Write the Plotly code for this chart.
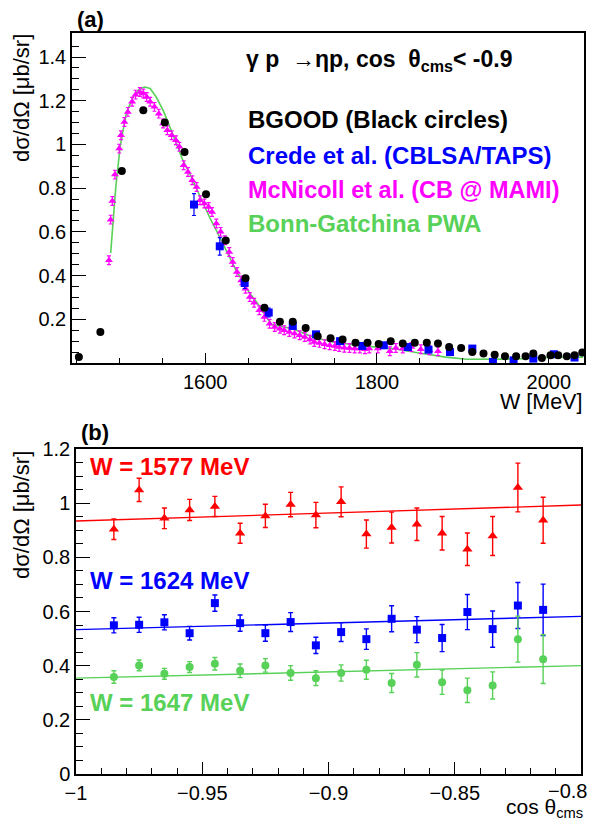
import numpy as np
import plotly.graph_objects as go

# ---------------- Panel (a) data ----------------
bgood_W = [1453, 1478, 1503, 1528, 1553, 1576, 1601, 1624, 1647, 1669, 1687, 1702, 1717, 1731,
           1746, 1760, 1775, 1789, 1802, 1816, 1830, 1844, 1858, 1871, 1884, 1898, 1911, 1924,
           1937, 1949, 1962, 1973, 1982, 1992, 2002, 2011, 2021, 2030, 2039]
bgood_xs = [0.027, 0.142, 0.879, 1.157, 1.100, 0.966, 0.772, 0.561, 0.388, 0.253, 0.189, 0.189,
            0.160, 0.122, 0.113, 0.107, 0.093, 0.093, 0.087, 0.099, 0.089, 0.093, 0.093, 0.089,
            0.073, 0.069, 0.050, 0.043, 0.038, 0.031, 0.031, 0.031, 0.043, 0.023, 0.035, 0.035,
            0.031, 0.035, 0.048]

crede_W = [1587, 1617, 1646, 1674, 1702, 1729, 1757, 1783, 1808, 1836, 1860, 1885, 1911, 1935,
           1959, 1982, 2006, 2030]
crede_xs = [0.725, 0.534, 0.366, 0.231, 0.170, 0.131, 0.100, 0.078, 0.081, 0.073, 0.061, 0.050,
            0.066, 0.005, 0.012, 0.020, 0.040, 0.025]
crede_err = [0.050, 0.040, 0.025, 0.020, 0.015, 0.012, 0.010, 0.010, 0.010, 0.010, 0.010, 0.010,
             0.010, 0.010, 0.010, 0.010, 0.010, 0.010]

mcn_W = [1488, 1490, 1492, 1495, 1500, 1502, 1506, 1510, 1515, 1519, 1524, 1528, 1532, 1536,
         1541, 1546, 1551, 1556, 1561, 1566, 1570, 1575, 1580, 1585, 1590, 1594, 1599, 1604,
         1608, 1613, 1618, 1623, 1628, 1632, 1637, 1642, 1647, 1652, 1657, 1663, 1669, 1675,
         1681, 1687, 1692, 1698, 1704, 1710, 1716, 1722, 1727, 1733, 1739, 1745, 1751, 1756,
         1762, 1768, 1774, 1780, 1786, 1791, 1801, 1815, 1822, 1830, 1840, 1851, 1861, 1871]
mcn_xs = [0.470, 0.656, 0.741, 0.862, 0.981, 1.042, 1.103, 1.149, 1.195, 1.228, 1.240, 1.233,
          1.217, 1.195, 1.172, 1.141, 1.096, 1.065, 1.042, 1.019, 0.989, 0.905, 0.874, 0.836,
          0.805, 0.745, 0.730, 0.714, 0.691, 0.638, 0.600, 0.562, 0.508, 0.462, 0.416, 0.378,
          0.340, 0.302, 0.276, 0.241, 0.211, 0.180, 0.165, 0.157, 0.150, 0.142, 0.135, 0.127,
          0.119, 0.107, 0.096, 0.092, 0.086, 0.081, 0.078, 0.073, 0.070, 0.069, 0.066, 0.066,
          0.063, 0.066, 0.066, 0.054, 0.069, 0.066, 0.073, 0.063, 0.058, 0.054]
mcn_err = [0.020] * len(mcn_W)

pwa_W = [1490, 1493, 1496, 1501, 1508, 1516, 1524, 1530, 1536, 1543, 1551, 1559, 1567, 1574,
         1582, 1590, 1597, 1605, 1613, 1621, 1629, 1636, 1644, 1652, 1660, 1669, 1677, 1690,
         1702, 1725, 1749, 1776, 1803, 1818, 1849, 1880, 1904, 1935, 1962, 1993, 2020, 2040]
pwa_xs = [0.503, 0.668, 0.806, 0.989, 1.141, 1.217, 1.256, 1.263, 1.256, 1.217, 1.157, 1.080,
          0.996, 0.928, 0.867, 0.798, 0.730, 0.668, 0.607, 0.546, 0.478, 0.424, 0.371, 0.318,
          0.278, 0.226, 0.177, 0.166, 0.157, 0.119, 0.096, 0.081, 0.073, 0.066, 0.046, 0.027,
          0.017, 0.016, 0.018, 0.025, 0.027, 0.027]

# ---------------- Panel (b) data ----------------
cos_bins = [-0.985, -0.975, -0.965, -0.955, -0.945, -0.935, -0.925, -0.915, -0.905, -0.895,
            -0.885, -0.875, -0.865, -0.855, -0.845, -0.835, -0.825, -0.815]

w1577 = [0.904, 1.049, 0.944, 0.975, 0.988, 0.889, 0.953, 0.995, 0.956, 1.005, 0.886, 0.910,
         0.922, 0.889, 0.830, 0.879, 1.058, 0.937]
w1577_err = [0.038, 0.043, 0.038, 0.039, 0.037, 0.037, 0.043, 0.045, 0.047, 0.055, 0.052, 0.057,
             0.060, 0.062, 0.060, 0.072, 0.090, 0.085]
w1577_fit = [0.934, 0.993]

w1624 = [0.549, 0.551, 0.560, 0.520, 0.631, 0.557, 0.520, 0.561, 0.475, 0.524, 0.498, 0.573,
         0.533, 0.502, 0.598, 0.535, 0.622, 0.606]
w1624_err = [0.028, 0.028, 0.028, 0.025, 0.030, 0.030, 0.030, 0.035, 0.030, 0.035, 0.038, 0.048,
             0.048, 0.050, 0.065, 0.067, 0.085, 0.095]
w1624_fit = [0.533, 0.582]

w1647 = [0.358, 0.401, 0.370, 0.395, 0.407, 0.381, 0.401, 0.373, 0.354, 0.373, 0.385, 0.336,
         0.403, 0.339, 0.309, 0.327, 0.498, 0.424]
w1647_err = [0.023, 0.020, 0.020, 0.020, 0.023, 0.025, 0.025, 0.027, 0.027, 0.030, 0.035, 0.035,
             0.045, 0.045, 0.045, 0.050, 0.085, 0.090]
w1647_fit = [0.354, 0.400]

fit_x = [-1.0, -0.8]
cos_ticks = [-1.0, -0.95, -0.9, -0.85, -0.8]
cos_labels = ["\u22121", "\u22120.95", "\u22120.9", "\u22120.85", "\u22120.8"]

RED, BLUE, GREEN, MAG = "#ff0000", "#0000ff", "#57d157", "#ff00ff"
FONT = "Liberation Sans"
OFF = 8                      # page body margin
W_PX, H_PX = 601 - 2 * OFF, 829 - 2 * OFF

def px(x):
    return (x - OFF) / W_PX

def py(y):
    return 1 - (y - OFF) / H_PX

fig = go.Figure()

# panel (a)
fig.add_trace(go.Scatter(x=pwa_W, y=pwa_xs, mode="lines", line=dict(color=GREEN, width=1.6),
                         xaxis="x", yaxis="y", showlegend=False))
fig.add_trace(go.Scatter(x=mcn_W, y=mcn_xs, mode="markers",
                         marker=dict(symbol="triangle-up", size=7, color=MAG),
                         error_y=dict(type="data", array=mcn_err, color=MAG, thickness=1.2, width=2),
                         xaxis="x", yaxis="y", showlegend=False))
fig.add_trace(go.Scatter(x=crede_W, y=crede_xs, mode="markers",
                         marker=dict(symbol="square", size=8, color=BLUE),
                         error_y=dict(type="data", array=crede_err, color=BLUE, thickness=1.2, width=2),
                         xaxis="x", yaxis="y", showlegend=False))
fig.add_trace(go.Scatter(x=bgood_W, y=bgood_xs, mode="markers",
                         marker=dict(symbol="circle", size=8, color="black"),
                         xaxis="x", yaxis="y", showlegend=False))

# panel (b)
for vals, errs, fit, col, sym, sz in [
    (w1577, w1577_err, w1577_fit, RED, "triangle-up", 9),
    (w1624, w1624_err, w1624_fit, BLUE, "square", 8),
    (w1647, w1647_err, w1647_fit, GREEN, "circle", 8),
]:
    fig.add_trace(go.Scatter(x=fit_x, y=fit, mode="lines", line=dict(color=col, width=1.4),
                             xaxis="x2", yaxis="y2", showlegend=False))
    fig.add_trace(go.Scatter(x=cos_bins, y=vals, mode="markers",
                             marker=dict(symbol=sym, size=sz, color=col),
                             error_y=dict(type="data", array=errs, color=col, thickness=1.4, width=2.5),
                             xaxis="x2", yaxis="y2", showlegend=False))

axis_common = dict(showgrid=False, zeroline=False, showline=True, linecolor="black", linewidth=1.5,
                   mirror=True, ticks="inside", tickcolor="black", tickwidth=1.2, automargin=False,
                   tickfont=dict(family=FONT, size=20, color="black"))

fig.update_layout(
    template="none",
    width=W_PX, height=H_PX, margin=dict(l=0, r=0, t=0, b=0, pad=0),
    paper_bgcolor="white", plot_bgcolor="white",
    xaxis=dict(domain=[px(72), px(584)], anchor="y", range=[1445, 2041],
               tickmode="array", tickvals=[1600, 1800, 2000], ticklen=10,
               minor=dict(tickmode="array", tickvals=list(range(1450, 2041, 50)), ticklen=5,
                          ticks="inside", tickcolor="black", tickwidth=1.2),
               **axis_common),
    yaxis=dict(domain=[py(363), py(33)], anchor="x", range=[0, 1.51],
               tickmode="array", tickvals=[0.2, 0.4, 0.6, 0.8, 1.0, 1.2, 1.4],
               ticktext=["0.2", "0.4", "0.6", "0.8", "1", "1.2", "1.4"], ticklen=14,
               minor=dict(tickmode="array", tickvals=[round(v, 2) for v in np.arange(0.05, 1.5, 0.05)],
                          ticklen=7, ticks="inside", tickcolor="black", tickwidth=1.2),
               **axis_common),
    xaxis2=dict(domain=[px(76), px(581)], anchor="y2", range=[-1.0, -0.8],
                tickmode="array", tickvals=cos_ticks,
                ticktext=cos_labels[:-1] + [""], ticklen=12,
                minor=dict(tickmode="array", tickvals=[round(v, 2) for v in np.arange(-0.99, -0.8, 0.01)],
                           ticklen=6, ticks="inside", tickcolor="black", tickwidth=1.2),
                **axis_common),
    yaxis2=dict(domain=[py(774), py(449)], anchor="x2", range=[0, 1.2],
                tickmode="array", tickvals=[0, 0.2, 0.4, 0.6, 0.8, 1.0, 1.2],
                ticktext=["0", "0.2", "0.4", "0.6", "0.8", "1", "1.2"], ticklen=14,
                minor=dict(tickmode="array", tickvals=[round(v, 2) for v in np.arange(0.05, 1.2, 0.05)],
                           ticklen=7, ticks="inside", tickcolor="black", tickwidth=1.2),
                **axis_common),
)

def ann(text, x, y, size=20, color="black", bold=False, xanchor="left", yanchor="middle", angle=0):
    if bold:
        text = "<b>" + text + "</b>"
    fig.add_annotation(text=text, x=px(x), y=py(y), xref="paper", yref="paper",
                       xanchor=xanchor, yanchor=yanchor, showarrow=False, textangle=angle,
                       font=dict(family=FONT, size=size, color=color))

# last cos tick label, kept inside the page
fig.add_annotation(text=cos_labels[-1], x=px(567), xref="paper", y=py(791), yref="paper",
                   xanchor="center", yanchor="middle", showarrow=False,
                   font=dict(family=FONT, size=20, color="black"))

ann("(a)", 75, 19, size=22, bold=True)
ann("(b)", 79, 432, size=22, bold=True)
ann("\u03b3 p  \u2192\u03b7p, cos  \u03b8<sub>cms</sub>&lt; -0.9", 244, 60, size=23, bold=True)
ann("BGOOD (Black circles)", 246, 119, size=24, bold=True)
ann("Crede et al. (CBLSA/TAPS)", 246, 156, size=24, color=BLUE, bold=True)
ann("McNicoll et al. (CB @ MAMI)", 246, 190, size=23.5, color=MAG, bold=True)
ann("Bonn-Gatchina PWA", 246, 224, size=24, color=GREEN, bold=True)
ann("W [MeV]", 584, 402, size=21.5, xanchor="right")
ann("cos \u03b8<sub>cms</sub>", 585, 808, size=21, xanchor="right")
ann("d\u03c3/d\u03a9 [\u03bcb/sr]", 21, 32, size=22, xanchor="center", yanchor="top", angle=-90)
ann("d\u03c3/d\u03a9 [\u03bcb/sr]", 21, 449, size=22, xanchor="center", yanchor="top", angle=-90)
ann("W = 1577 MeV", 88, 466, size=24, color=RED, bold=True)
ann("W = 1624 MeV", 88, 580, size=24, color=BLUE, bold=True)
ann("W = 1647 MeV", 88, 702, size=24, color=GREEN, bold=True)

fig.write_html("out.html")
